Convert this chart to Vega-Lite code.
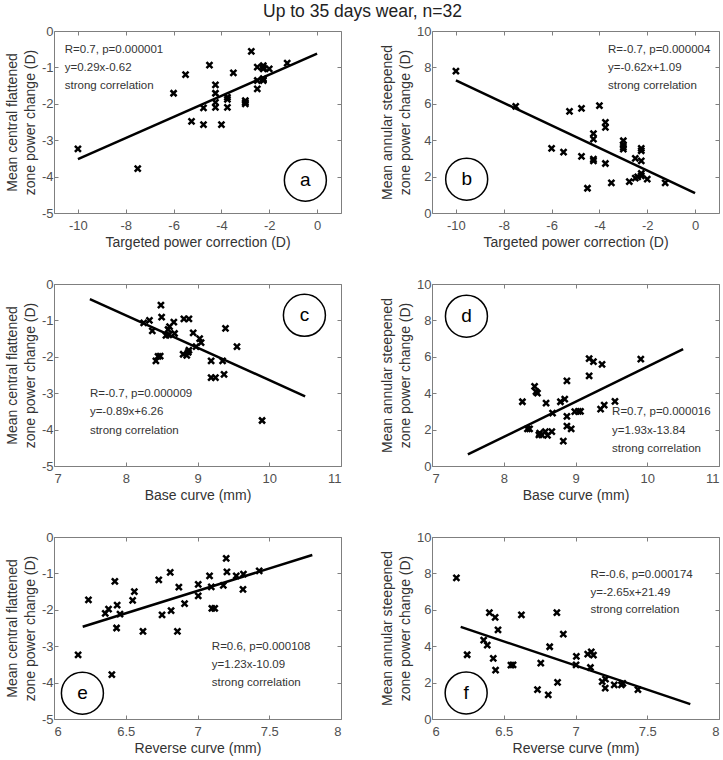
{
  "$schema": "https://vega.github.io/schema/vega-lite/v6.json",
  "padding": {"left": 4, "top": 3, "right": 4, "bottom": 4},
  "title": {"text": "Up to 35 days wear, n=32", "fontSize": 17.5, "fontWeight": "normal", "color": "#222222", "anchor": "middle", "font": "Liberation Sans"},
  "bounds": "flush",
  "columns": 2,
  "spacing": {"row": 71, "column": 91},
  "config": {
    "font": "Liberation Sans",
    "view": {"stroke": "#7f7f7f", "strokeWidth": 1},
    "axis": {"grid": false, "domain": false, "tickSize": -4, "tickColor": "#7f7f7f", "tickWidth": 1, "labelFontSize": 13, "labelColor": "#505050", "titleFontSize": 14, "titleFontWeight": "normal", "titleColor": "#333333", "titleLineHeight": 18, "labelExpr": "'' + datum.value"},
    "axisX": {"labelPadding": 10.5, "titlePadding": 3},
    "axisY": {"labelPadding": 5, "titlePadding": 4}
  },
  "datasets": {
    "a_pts": [
      {"x": -10, "y": -3.24}, {"x": -7.5, "y": -3.78}, {"x": -6, "y": -1.71}, {"x": -5.5, "y": -1.2}, {"x": -5.25, "y": -2.48}, {"x": -4.75, "y": -2.11}, {"x": -4.75, "y": -2.57}, {"x": -4.5, "y": -0.94}, {"x": -4.25, "y": -1.48}, {"x": -4.25, "y": -1.71}, {"x": -4.25, "y": -1.96}, {"x": -4.25, "y": -2.1}, {"x": -4, "y": -2.57}, {"x": -3.5, "y": -1.15}, {"x": -3.75, "y": -1.82}, {"x": -3.75, "y": -1.88}, {"x": -3.75, "y": -2.1}, {"x": -3, "y": -1.91}, {"x": -3, "y": -1.96}, {"x": -3, "y": -2.0}, {"x": -2.75, "y": -0.56}, {"x": -2.5, "y": -0.99}, {"x": -2.5, "y": -1.36}, {"x": -2.5, "y": -1.59}, {"x": -2.25, "y": -0.95}, {"x": -2.25, "y": -1.04}, {"x": -2.25, "y": -1.31}, {"x": -2.25, "y": -1.36}, {"x": -2.25, "y": -1.0}, {"x": -2.25, "y": -1.33}, {"x": -2, "y": -1.04}, {"x": -1.25, "y": -0.88}
    ],
    "b_pts": [
      {"x": -10, "y": 7.79}, {"x": -7.5, "y": 5.86}, {"x": -6, "y": 3.55}, {"x": -5.5, "y": 3.35}, {"x": -5.25, "y": 5.59}, {"x": -4.75, "y": 5.75}, {"x": -4.75, "y": 3.11}, {"x": -4.5, "y": 1.36}, {"x": -4.25, "y": 4.36}, {"x": -4.25, "y": 4.06}, {"x": -4.25, "y": 2.96}, {"x": -4.25, "y": 2.87}, {"x": -4, "y": 5.9}, {"x": -3.75, "y": 4.98}, {"x": -3.75, "y": 4.71}, {"x": -3.75, "y": 2.72}, {"x": -3.5, "y": 1.65}, {"x": -3, "y": 3.97}, {"x": -3, "y": 3.75}, {"x": -3, "y": 3.51}, {"x": -3, "y": 3.62}, {"x": -2.75, "y": 1.73}, {"x": -2.5, "y": 3.0}, {"x": -2.5, "y": 1.91}, {"x": -2.25, "y": 3.55}, {"x": -2.25, "y": 3.42}, {"x": -2.25, "y": 2.87}, {"x": -2.25, "y": 2.17}, {"x": -2.25, "y": 2.04}, {"x": -2.4, "y": 1.98}, {"x": -2, "y": 1.86}, {"x": -1.25, "y": 1.65}
    ],
    "c_pts": [
      {"x": 8.25, "y": -1.07}, {"x": 8.33, "y": -1.0}, {"x": 8.37, "y": -1.29}, {"x": 8.42, "y": -2.11}, {"x": 8.45, "y": -1.99}, {"x": 8.48, "y": -1.98}, {"x": 8.49, "y": -0.58}, {"x": 8.5, "y": -0.91}, {"x": 8.56, "y": -1.41}, {"x": 8.59, "y": -1.25}, {"x": 8.61, "y": -1.17}, {"x": 8.67, "y": -1.05}, {"x": 8.68, "y": -1.36}, {"x": 8.81, "y": -0.96}, {"x": 8.88, "y": -0.96}, {"x": 8.8, "y": -1.93}, {"x": 8.85, "y": -1.96}, {"x": 8.88, "y": -1.82}, {"x": 8.94, "y": -1.34}, {"x": 9.03, "y": -1.5}, {"x": 9.05, "y": -1.61}, {"x": 8.98, "y": -1.72}, {"x": 9.19, "y": -2.11}, {"x": 9.19, "y": -2.57}, {"x": 9.25, "y": -2.57}, {"x": 9.35, "y": -2.11}, {"x": 9.37, "y": -2.48}, {"x": 9.39, "y": -1.22}, {"x": 9.55, "y": -1.72}, {"x": 9.9, "y": -3.75}, {"x": 8.6, "y": -1.4}, {"x": 8.87, "y": -1.88}
    ],
    "d_pts": [
      {"x": 8.26, "y": 3.53}, {"x": 8.33, "y": 2.04}, {"x": 8.36, "y": 2.04}, {"x": 8.43, "y": 4.37}, {"x": 8.45, "y": 4.08}, {"x": 8.47, "y": 4.0}, {"x": 8.49, "y": 1.71}, {"x": 8.53, "y": 1.71}, {"x": 8.58, "y": 1.89}, {"x": 8.59, "y": 3.46}, {"x": 8.61, "y": 1.68}, {"x": 8.67, "y": 1.89}, {"x": 8.68, "y": 2.9}, {"x": 8.79, "y": 3.53}, {"x": 8.85, "y": 3.68}, {"x": 8.83, "y": 1.37}, {"x": 8.88, "y": 4.68}, {"x": 8.88, "y": 2.73}, {"x": 8.88, "y": 2.19}, {"x": 8.94, "y": 2.04}, {"x": 8.99, "y": 2.99}, {"x": 9.04, "y": 3.0}, {"x": 9.07, "y": 3.0}, {"x": 9.19, "y": 5.9}, {"x": 9.19, "y": 4.95}, {"x": 9.25, "y": 5.74}, {"x": 9.37, "y": 5.59}, {"x": 9.35, "y": 3.13}, {"x": 9.4, "y": 3.35}, {"x": 9.55, "y": 3.55}, {"x": 9.91, "y": 5.87}, {"x": 8.5, "y": 1.8}
    ],
    "e_pts": [
      {"x": 6.168, "y": -3.24}, {"x": 6.24, "y": -1.73}, {"x": 6.357, "y": -2.1}, {"x": 6.38, "y": -1.98}, {"x": 6.403, "y": -3.78}, {"x": 6.424, "y": -1.22}, {"x": 6.44, "y": -1.87}, {"x": 6.436, "y": -2.5}, {"x": 6.46, "y": -2.12}, {"x": 6.56, "y": -1.5}, {"x": 6.548, "y": -1.74}, {"x": 6.62, "y": -2.59}, {"x": 6.73, "y": -1.18}, {"x": 6.753, "y": -2.14}, {"x": 6.81, "y": -0.97}, {"x": 6.816, "y": -2.02}, {"x": 6.86, "y": -2.59}, {"x": 6.87, "y": -1.38}, {"x": 6.91, "y": -1.83}, {"x": 7.005, "y": -1.3}, {"x": 7.005, "y": -1.62}, {"x": 7.084, "y": -1.07}, {"x": 7.096, "y": -1.37}, {"x": 7.1, "y": -1.96}, {"x": 7.12, "y": -1.96}, {"x": 7.18, "y": -1.33}, {"x": 7.2, "y": -0.59}, {"x": 7.205, "y": -0.96}, {"x": 7.27, "y": -1.07}, {"x": 7.32, "y": -1.02}, {"x": 7.317, "y": -1.44}, {"x": 7.43, "y": -0.93}
    ],
    "f_pts": [
      {"x": 6.17, "y": 7.75}, {"x": 6.245, "y": 3.53}, {"x": 6.36, "y": 4.33}, {"x": 6.385, "y": 4.06}, {"x": 6.4, "y": 5.85}, {"x": 6.44, "y": 5.58}, {"x": 6.427, "y": 3.33}, {"x": 6.443, "y": 2.69}, {"x": 6.46, "y": 4.9}, {"x": 6.55, "y": 2.96}, {"x": 6.565, "y": 2.98}, {"x": 6.623, "y": 5.72}, {"x": 6.735, "y": 1.61}, {"x": 6.758, "y": 3.07}, {"x": 6.81, "y": 1.33}, {"x": 6.82, "y": 3.97}, {"x": 6.87, "y": 5.85}, {"x": 6.875, "y": 2.01}, {"x": 6.915, "y": 4.66}, {"x": 7.006, "y": 3.44}, {"x": 7.004, "y": 2.98}, {"x": 7.085, "y": 3.56}, {"x": 7.11, "y": 3.69}, {"x": 7.125, "y": 3.51}, {"x": 7.104, "y": 2.83}, {"x": 7.186, "y": 2.05}, {"x": 7.207, "y": 1.7}, {"x": 7.209, "y": 2.19}, {"x": 7.27, "y": 1.88}, {"x": 7.32, "y": 1.88}, {"x": 7.33, "y": 1.96}, {"x": 7.435, "y": 1.61}
    ],
    "a_line": [{"x": -10, "y": -3.52}, {"x": 0, "y": -0.62}],
    "b_line": [{"x": -10, "y": 7.29}, {"x": 0, "y": 1.09}],
    "c_line": [{"x": 7.5, "y": -0.415}, {"x": 10.5, "y": -3.085}],
    "d_line": [{"x": 7.5, "y": 0.635}, {"x": 10.5, "y": 6.425}],
    "e_line": [{"x": 6.2, "y": -2.464}, {"x": 7.8, "y": -0.496}],
    "f_line": [{"x": 6.2, "y": 5.06}, {"x": 7.8, "y": 0.82}],
    "a_txt": [{"x": -10.55, "y": -0.51, "label": "R=0.7, p=0.000001"}, {"x": -10.55, "y": -1.01, "label": "y=0.29x-0.62"}, {"x": -10.55, "y": -1.5, "label": "strong correlation"}],
    "b_txt": [{"x": -3.64, "y": 8.93, "label": "R=-0.7, p=0.000004"}, {"x": -3.64, "y": 7.98, "label": "y=-0.62x+1.09"}, {"x": -3.64, "y": 7.0, "label": "strong correlation"}],
    "c_txt": [{"x": 7.5, "y": -3.02, "label": "R=-0.7, p=0.000009"}, {"x": 7.5, "y": -3.52, "label": "y=-0.89x+6.26"}, {"x": 7.5, "y": -4.03, "label": "strong correlation"}],
    "d_txt": [{"x": 9.51, "y": 2.95, "label": "R=0.7, p=0.000016"}, {"x": 9.51, "y": 1.95, "label": "y=1.93x-13.84"}, {"x": 9.51, "y": 0.95, "label": "strong correlation"}],
    "e_txt": [{"x": 7.1, "y": -3.02, "label": "R=0.6, p=0.000108"}, {"x": 7.1, "y": -3.52, "label": "y=1.23x-10.09"}, {"x": 7.1, "y": -4.02, "label": "strong correlation"}],
    "f_txt": [{"x": 7.104, "y": 7.92, "label": "R=-0.6, p=0.000174"}, {"x": 7.104, "y": 6.95, "label": "y=-2.65x+21.49"}, {"x": 7.104, "y": 5.98, "label": "strong correlation"}],
    "a_lab": [{"x": -0.49, "y": -4.1, "label": "a"}],
    "b_lab": [{"x": -9.55, "y": 1.86, "label": "b"}],
    "c_lab": [{"x": 10.49, "y": -0.86, "label": "c"}],
    "d_lab": [{"x": 7.48, "y": 8.23, "label": "d"}],
    "e_lab": [{"x": 6.198, "y": -4.29, "label": "e"}],
    "f_lab": [{"x": 6.238, "y": 1.43, "label": "f"}]
  },
  "concat": [
    {
      "width": 287, "height": 182,
      "resolve": {"axis": {"x": "independent", "y": "independent"}},
      "layer": [
        {"data": {"name": "a_pts"}, "mark": {"type": "point", "shape": "M-1,-1L1,1M-1,1L1,-1", "size": 36, "strokeWidth": 2.5, "color": "black", "filled": false, "opacity": 1},
         "encoding": {"x": {"field": "x", "type": "quantitative", "scale": {"domain": [-11, 1], "nice": false, "zero": false}, "axis": {"orient": "bottom", "title": "Targeted power correction (D)", "values": [-10, -8, -6, -4, -2, 0]}},
                      "y": {"field": "y", "type": "quantitative", "scale": {"domain": [-5, 0], "nice": false, "zero": false}, "axis": {"orient": "left", "title": ["Mean central flattened", "zone power change (D)"], "values": [0, -1, -2, -3, -4, -5]}}}},
        {"data": {"name": "a_line"}, "mark": {"type": "line", "color": "black", "strokeWidth": 2.5},
         "encoding": {"x": {"field": "x", "type": "quantitative", "scale": {"domain": [-11, 1], "nice": false, "zero": false}, "axis": {"orient": "top", "title": null, "labels": false, "values": [-10, -8, -6, -4, -2, 0]}},
                      "y": {"field": "y", "type": "quantitative", "scale": {"domain": [-5, 0], "nice": false, "zero": false}, "axis": {"orient": "right", "title": null, "labels": false, "values": [0, -1, -2, -3, -4, -5]}}}},
        {"data": {"name": "a_txt"}, "mark": {"type": "text", "align": "left", "baseline": "middle", "fontSize": 11.5, "color": "#333333"},
         "encoding": {"x": {"field": "x", "type": "quantitative", "axis": null}, "y": {"field": "y", "type": "quantitative", "axis": null}, "text": {"field": "label"}}},
        {"data": {"name": "a_lab"}, "mark": {"type": "point", "shape": "circle", "size": 1764, "stroke": "black", "strokeWidth": 1.5, "filled": false, "opacity": 1},
         "encoding": {"x": {"field": "x", "type": "quantitative", "axis": null}, "y": {"field": "y", "type": "quantitative", "axis": null}}},
        {"data": {"name": "a_lab"}, "mark": {"type": "text", "align": "center", "baseline": "middle", "fontSize": 19, "color": "black"},
         "encoding": {"x": {"field": "x", "type": "quantitative", "axis": null}, "y": {"field": "y", "type": "quantitative", "axis": null}, "text": {"field": "label"}}}
      ]
    },
    {
      "width": 287, "height": 182,
      "resolve": {"axis": {"x": "independent", "y": "independent"}},
      "layer": [
        {"data": {"name": "b_pts"}, "mark": {"type": "point", "shape": "M-1,-1L1,1M-1,1L1,-1", "size": 36, "strokeWidth": 2.5, "color": "black", "filled": false, "opacity": 1},
         "encoding": {"x": {"field": "x", "type": "quantitative", "scale": {"domain": [-11, 1], "nice": false, "zero": false}, "axis": {"orient": "bottom", "title": "Targeted power correction (D)", "values": [-10, -8, -6, -4, -2, 0]}},
                      "y": {"field": "y", "type": "quantitative", "scale": {"domain": [0, 10], "nice": false, "zero": false}, "axis": {"orient": "left", "title": ["Mean annular steepened", "zone power change (D)"], "values": [0, 2, 4, 6, 8, 10]}}}},
        {"data": {"name": "b_line"}, "mark": {"type": "line", "color": "black", "strokeWidth": 2.5},
         "encoding": {"x": {"field": "x", "type": "quantitative", "scale": {"domain": [-11, 1], "nice": false, "zero": false}, "axis": {"orient": "top", "title": null, "labels": false, "values": [-10, -8, -6, -4, -2, 0]}},
                      "y": {"field": "y", "type": "quantitative", "scale": {"domain": [0, 10], "nice": false, "zero": false}, "axis": {"orient": "right", "title": null, "labels": false, "values": [0, 2, 4, 6, 8, 10]}}}},
        {"data": {"name": "b_txt"}, "mark": {"type": "text", "align": "left", "baseline": "middle", "fontSize": 11.5, "color": "#333333"},
         "encoding": {"x": {"field": "x", "type": "quantitative", "axis": null}, "y": {"field": "y", "type": "quantitative", "axis": null}, "text": {"field": "label"}}},
        {"data": {"name": "b_lab"}, "mark": {"type": "point", "shape": "circle", "size": 1764, "stroke": "black", "strokeWidth": 1.5, "filled": false, "opacity": 1},
         "encoding": {"x": {"field": "x", "type": "quantitative", "axis": null}, "y": {"field": "y", "type": "quantitative", "axis": null}}},
        {"data": {"name": "b_lab"}, "mark": {"type": "text", "align": "center", "baseline": "middle", "fontSize": 19, "color": "black"},
         "encoding": {"x": {"field": "x", "type": "quantitative", "axis": null}, "y": {"field": "y", "type": "quantitative", "axis": null}, "text": {"field": "label"}}}
      ]
    },
    {
      "width": 287, "height": 182,
      "resolve": {"axis": {"x": "independent", "y": "independent"}},
      "layer": [
        {"data": {"name": "c_pts"}, "mark": {"type": "point", "shape": "M-1,-1L1,1M-1,1L1,-1", "size": 36, "strokeWidth": 2.5, "color": "black", "filled": false, "opacity": 1},
         "encoding": {"x": {"field": "x", "type": "quantitative", "scale": {"domain": [7, 11], "nice": false, "zero": false}, "axis": {"orient": "bottom", "title": "Base curve (mm)", "values": [7, 8, 9, 10, 11]}},
                      "y": {"field": "y", "type": "quantitative", "scale": {"domain": [-5, 0], "nice": false, "zero": false}, "axis": {"orient": "left", "title": ["Mean central flattened", "zone power change (D)"], "values": [0, -1, -2, -3, -4, -5]}}}},
        {"data": {"name": "c_line"}, "mark": {"type": "line", "color": "black", "strokeWidth": 2.5},
         "encoding": {"x": {"field": "x", "type": "quantitative", "scale": {"domain": [7, 11], "nice": false, "zero": false}, "axis": {"orient": "top", "title": null, "labels": false, "values": [7, 8, 9, 10, 11]}},
                      "y": {"field": "y", "type": "quantitative", "scale": {"domain": [-5, 0], "nice": false, "zero": false}, "axis": {"orient": "right", "title": null, "labels": false, "values": [0, -1, -2, -3, -4, -5]}}}},
        {"data": {"name": "c_txt"}, "mark": {"type": "text", "align": "left", "baseline": "middle", "fontSize": 11.5, "color": "#333333"},
         "encoding": {"x": {"field": "x", "type": "quantitative", "axis": null}, "y": {"field": "y", "type": "quantitative", "axis": null}, "text": {"field": "label"}}},
        {"data": {"name": "c_lab"}, "mark": {"type": "point", "shape": "circle", "size": 1764, "stroke": "black", "strokeWidth": 1.5, "filled": false, "opacity": 1},
         "encoding": {"x": {"field": "x", "type": "quantitative", "axis": null}, "y": {"field": "y", "type": "quantitative", "axis": null}}},
        {"data": {"name": "c_lab"}, "mark": {"type": "text", "align": "center", "baseline": "middle", "fontSize": 19, "color": "black"},
         "encoding": {"x": {"field": "x", "type": "quantitative", "axis": null}, "y": {"field": "y", "type": "quantitative", "axis": null}, "text": {"field": "label"}}}
      ]
    },
    {
      "width": 287, "height": 182,
      "resolve": {"axis": {"x": "independent", "y": "independent"}},
      "layer": [
        {"data": {"name": "d_pts"}, "mark": {"type": "point", "shape": "M-1,-1L1,1M-1,1L1,-1", "size": 36, "strokeWidth": 2.5, "color": "black", "filled": false, "opacity": 1},
         "encoding": {"x": {"field": "x", "type": "quantitative", "scale": {"domain": [7, 11], "nice": false, "zero": false}, "axis": {"orient": "bottom", "title": "Base curve (mm)", "values": [7, 8, 9, 10, 11]}},
                      "y": {"field": "y", "type": "quantitative", "scale": {"domain": [0, 10], "nice": false, "zero": false}, "axis": {"orient": "left", "title": ["Mean annular steepened", "zone power change (D)"], "values": [0, 2, 4, 6, 8, 10]}}}},
        {"data": {"name": "d_line"}, "mark": {"type": "line", "color": "black", "strokeWidth": 2.5},
         "encoding": {"x": {"field": "x", "type": "quantitative", "scale": {"domain": [7, 11], "nice": false, "zero": false}, "axis": {"orient": "top", "title": null, "labels": false, "values": [7, 8, 9, 10, 11]}},
                      "y": {"field": "y", "type": "quantitative", "scale": {"domain": [0, 10], "nice": false, "zero": false}, "axis": {"orient": "right", "title": null, "labels": false, "values": [0, 2, 4, 6, 8, 10]}}}},
        {"data": {"name": "d_txt"}, "mark": {"type": "text", "align": "left", "baseline": "middle", "fontSize": 11.5, "color": "#333333"},
         "encoding": {"x": {"field": "x", "type": "quantitative", "axis": null}, "y": {"field": "y", "type": "quantitative", "axis": null}, "text": {"field": "label"}}},
        {"data": {"name": "d_lab"}, "mark": {"type": "point", "shape": "circle", "size": 1764, "stroke": "black", "strokeWidth": 1.5, "filled": false, "opacity": 1},
         "encoding": {"x": {"field": "x", "type": "quantitative", "axis": null}, "y": {"field": "y", "type": "quantitative", "axis": null}}},
        {"data": {"name": "d_lab"}, "mark": {"type": "text", "align": "center", "baseline": "middle", "fontSize": 19, "color": "black"},
         "encoding": {"x": {"field": "x", "type": "quantitative", "axis": null}, "y": {"field": "y", "type": "quantitative", "axis": null}, "text": {"field": "label"}}}
      ]
    },
    {
      "width": 287, "height": 182,
      "resolve": {"axis": {"x": "independent", "y": "independent"}},
      "layer": [
        {"data": {"name": "e_pts"}, "mark": {"type": "point", "shape": "M-1,-1L1,1M-1,1L1,-1", "size": 36, "strokeWidth": 2.5, "color": "black", "filled": false, "opacity": 1},
         "encoding": {"x": {"field": "x", "type": "quantitative", "scale": {"domain": [6, 8], "nice": false, "zero": false}, "axis": {"orient": "bottom", "title": "Reverse curve (mm)", "values": [6, 6.5, 7, 7.5, 8]}},
                      "y": {"field": "y", "type": "quantitative", "scale": {"domain": [-5, 0], "nice": false, "zero": false}, "axis": {"orient": "left", "title": ["Mean central flattened", "zone power change (D)"], "values": [0, -1, -2, -3, -4, -5]}}}},
        {"data": {"name": "e_line"}, "mark": {"type": "line", "color": "black", "strokeWidth": 2.5},
         "encoding": {"x": {"field": "x", "type": "quantitative", "scale": {"domain": [6, 8], "nice": false, "zero": false}, "axis": {"orient": "top", "title": null, "labels": false, "values": [6, 6.5, 7, 7.5, 8]}},
                      "y": {"field": "y", "type": "quantitative", "scale": {"domain": [-5, 0], "nice": false, "zero": false}, "axis": {"orient": "right", "title": null, "labels": false, "values": [0, -1, -2, -3, -4, -5]}}}},
        {"data": {"name": "e_txt"}, "mark": {"type": "text", "align": "left", "baseline": "middle", "fontSize": 11.5, "color": "#333333"},
         "encoding": {"x": {"field": "x", "type": "quantitative", "axis": null}, "y": {"field": "y", "type": "quantitative", "axis": null}, "text": {"field": "label"}}},
        {"data": {"name": "e_lab"}, "mark": {"type": "point", "shape": "circle", "size": 1764, "stroke": "black", "strokeWidth": 1.5, "filled": false, "opacity": 1},
         "encoding": {"x": {"field": "x", "type": "quantitative", "axis": null}, "y": {"field": "y", "type": "quantitative", "axis": null}}},
        {"data": {"name": "e_lab"}, "mark": {"type": "text", "align": "center", "baseline": "middle", "fontSize": 19, "color": "black"},
         "encoding": {"x": {"field": "x", "type": "quantitative", "axis": null}, "y": {"field": "y", "type": "quantitative", "axis": null}, "text": {"field": "label"}}}
      ]
    },
    {
      "width": 287, "height": 182,
      "resolve": {"axis": {"x": "independent", "y": "independent"}},
      "layer": [
        {"data": {"name": "f_pts"}, "mark": {"type": "point", "shape": "M-1,-1L1,1M-1,1L1,-1", "size": 36, "strokeWidth": 2.5, "color": "black", "filled": false, "opacity": 1},
         "encoding": {"x": {"field": "x", "type": "quantitative", "scale": {"domain": [6, 8], "nice": false, "zero": false}, "axis": {"orient": "bottom", "title": "Reverse curve (mm)", "values": [6, 6.5, 7, 7.5, 8]}},
                      "y": {"field": "y", "type": "quantitative", "scale": {"domain": [0, 10], "nice": false, "zero": false}, "axis": {"orient": "left", "title": ["Mean annular steepened", "zone power change (D)"], "values": [0, 2, 4, 6, 8, 10]}}}},
        {"data": {"name": "f_line"}, "mark": {"type": "line", "color": "black", "strokeWidth": 2.5},
         "encoding": {"x": {"field": "x", "type": "quantitative", "scale": {"domain": [6, 8], "nice": false, "zero": false}, "axis": {"orient": "top", "title": null, "labels": false, "values": [6, 6.5, 7, 7.5, 8]}},
                      "y": {"field": "y", "type": "quantitative", "scale": {"domain": [0, 10], "nice": false, "zero": false}, "axis": {"orient": "right", "title": null, "labels": false, "values": [0, 2, 4, 6, 8, 10]}}}},
        {"data": {"name": "f_txt"}, "mark": {"type": "text", "align": "left", "baseline": "middle", "fontSize": 11.5, "color": "#333333"},
         "encoding": {"x": {"field": "x", "type": "quantitative", "axis": null}, "y": {"field": "y", "type": "quantitative", "axis": null}, "text": {"field": "label"}}},
        {"data": {"name": "f_lab"}, "mark": {"type": "point", "shape": "circle", "size": 1764, "stroke": "black", "strokeWidth": 1.5, "filled": false, "opacity": 1},
         "encoding": {"x": {"field": "x", "type": "quantitative", "axis": null}, "y": {"field": "y", "type": "quantitative", "axis": null}}},
        {"data": {"name": "f_lab"}, "mark": {"type": "text", "align": "center", "baseline": "middle", "fontSize": 19, "color": "black"},
         "encoding": {"x": {"field": "x", "type": "quantitative", "axis": null}, "y": {"field": "y", "type": "quantitative", "axis": null}, "text": {"field": "label"}}}
      ]
    }
  ]
}
